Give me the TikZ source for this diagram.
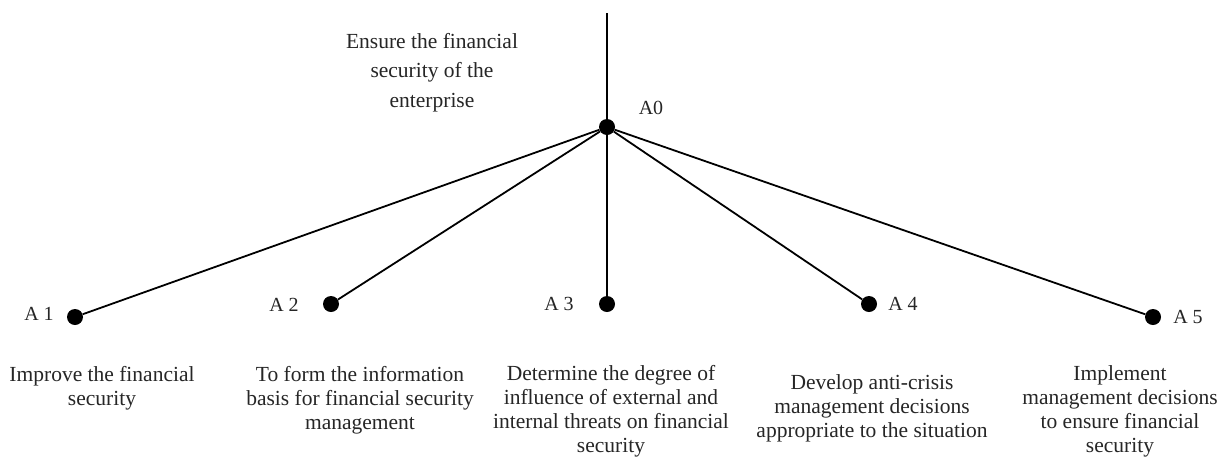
\documentclass[tikz,border=0pt]{standalone}
\usepackage{fontspec}
\setmainfont{Liberation Serif}
\begin{document}
\begin{tikzpicture}[x=1pt,y=-1pt,
 dot/.style={circle,fill=black,inner sep=0pt,minimum size=16pt},
 edge/.style={line width=1.8pt},
 lab/.style={font=\fontsize{20}{24}\selectfont, text=black!85, inner sep=0pt},
 desc/.style={font=\fontsize{21.5}{24}\selectfont, text=black!85, align=center, inner sep=0pt}]
\useasboundingbox[fill=white] (0,0) rectangle (1219,456);
\coordinate (top) at (607,13);
\node[dot] (A0) at (607,127) {};
\node[dot] (A1) at (75,317) {};
\node[dot] (A2) at (331,304) {};
\node[dot] (A3) at (607,304) {};
\node[dot] (A4) at (869,304) {};
\node[dot] (A5) at (1153,317) {};
\draw[edge] (top) -- (A0);
\foreach \i in {1,...,5} \draw[edge] (A0) -- (A\i);
\node[lab] (l0) at (651,108) {A0};
\node[lab] (l1) at (39,314) {A 1};
\node[lab] (l2) at (284,305) {A 2};
\node[lab] (l3) at (559,304) {A 3};
\node[lab] (l4) at (903,304) {A 4};
\node[lab] (l5) at (1188,317) {A 5};
\node[desc, font=\fontsize{21.5}{29.5}\selectfont] (t0) at (432,72.5) {Ensure the financial\\security of the\\enterprise};
\node[desc] (d1) at (102,388) {Improve the financial\\security};
\node[desc] (d2) at (360,400) {To form the information\\basis for financial security\\management};
\node[desc] (d3) at (611,411.5) {Determine the degree of\\influence of external and\\internal threats on financial\\security};
\node[desc] (d4) at (872,408) {Develop anti-crisis\\management decisions\\appropriate to the situation};
\node[desc] (d5) at (1120,411) {Implement\\management decisions\\to ensure financial\\security};
\end{tikzpicture}
\end{document}
